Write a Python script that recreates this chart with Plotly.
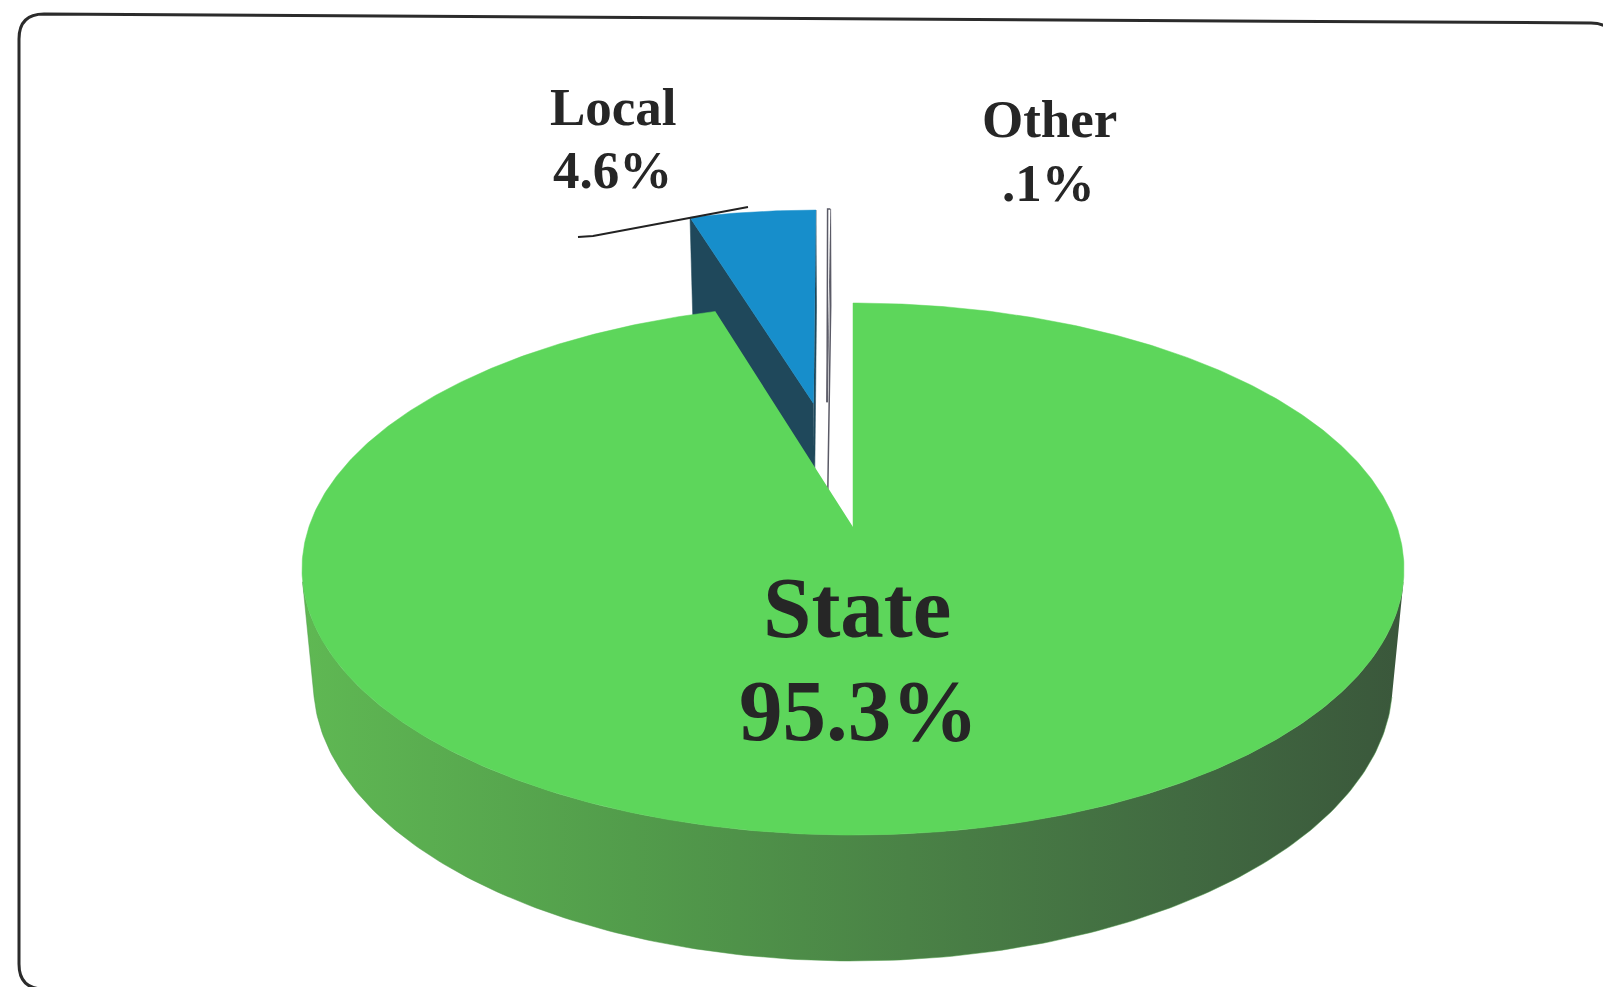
import numpy as np
import plotly.graph_objects as go

# ---------------- data ----------------
labels = ["State", "Local", "Other"]
values = [95.3, 4.6, 0.1]

# ---------------- style ----------------
top_colors = ["#5dd65b", "#178ecb", "#ffffff"]
wall_colors = ["#4f9a48", "#1f485b", "#ffffff"]
outline = [None, None, "#5a5a66"]
explode = [0.0, 0.52, 0.52]          # radial explode distance (radius units)
lateral = [0.0, 0.0, -0.05]          # small sideways nudge of exploded slice
side_scale = [[0.0, "#5fb853"], [0.3, "#529c4b"], [0.55, "#4a8246"],
              [0.8, "#416a41"], [1.0, "#3a573b"]]

W, H = 1611, 987
CX, CY = 845, 519
F, L = 3029.0, 5.567
PHI = np.radians(28.47)
DEPTH = 0.2405
SP, CP = np.sin(PHI), np.cos(PHI)


def proj(X, Y, Z):
    X, Y, Z = np.asarray(X, float), np.asarray(Y, float), np.asarray(Z, float)
    d = L + Z * CP - Y * SP
    return CX + F * X / d, CY - F * (Y * CP + Z * SP) / d


fig = go.Figure()


def poly(xs, ys, color, line_color=None, name="", gradient=None):
    kw = dict(x=list(xs), y=list(ys), mode="lines", fill="toself",
              fillcolor=color, hoverinfo="skip", showlegend=False, name=name)
    if line_color:
        kw["line"] = dict(color=line_color, width=1.5)
    else:
        kw["line"] = dict(color=color, width=0.5)
    if gradient:
        kw["fillgradient"] = dict(type="horizontal", colorscale=gradient)
    fig.add_trace(go.Scatter(**kw))


total = sum(values)
cum = np.concatenate([[0], np.cumsum(values)])
ranges = [(360 * cum[i] / total, 360 * cum[i + 1] / total) for i in range(len(values))]

# visible range of the curved side (perspective silhouette)
th_s = np.degrees(np.arccos(-1.0 / (L * CP)))
vis = (th_s, 360 - th_s)

# draw back (exploded) slices first, then the big front slice
order = [2, 1, 0]
for i in order:
    t0, t1 = ranges[i]
    mid = np.radians((t0 + t1) / 2)
    ox = explode[i] * np.sin(mid) + lateral[i]
    oz = explode[i] * np.cos(mid)
    th = np.radians(np.linspace(t0, t1, max(4, int((t1 - t0) * 2))))
    rx = ox + np.sin(th)
    rz = oz + np.cos(th)
    # radial walls
    for edge, sgn in ((t0, -1), (t1, 1)):
        e = np.radians(edge)
        nx, nz = sgn * np.cos(e), -sgn * np.sin(e)
        px, pz = ox + 0.5 * np.sin(e), oz + 0.5 * np.cos(e)
        if nx * (0 - px) + nz * (-L * CP - pz) <= 0:
            continue
        X = [ox, ox + np.sin(e), ox + np.sin(e), ox]
        Z = [oz, oz + np.cos(e), oz + np.cos(e), oz]
        Y = [0, 0, -DEPTH, -DEPTH]
        sx, sy = proj(X, Y, Z)
        poly(sx, sy, wall_colors[i], outline[i], labels[i])
    # curved front side
    a0, a1 = max(t0, vis[0]), min(t1, vis[1])
    if a1 > a0:
        ts = np.radians(np.linspace(a0, a1, 200))
        sx1, sy1 = proj(ox + np.sin(ts), np.zeros_like(ts), oz + np.cos(ts))
        sx2, sy2 = proj(ox + np.sin(ts[::-1]), -DEPTH * np.ones_like(ts), oz + np.cos(ts[::-1]))
        poly(np.concatenate([sx1, sx2]), np.concatenate([sy1, sy2]),
             wall_colors[i], None, labels[i], gradient=side_scale)
    # top face
    sx, sy = proj(np.concatenate([[ox], rx]), np.zeros(len(rx) + 1),
                  np.concatenate([[oz], rz]))
    poly(sx, sy, top_colors[i], outline[i], labels[i])


def fmt(v):
    return f"{v:.1f}".lstrip("0") + "%"


label_pos = {"State": ((849, 599), (850, 702), 87),
             "Local": ((605, 99), (604, 162), 53),
             "Other": ((1041, 111), (1040, 175), 53)}
annotations = []
for lab, v in zip(labels, values):
    (x1, y1), (x2, y2), fs = label_pos[lab]
    for txt, xx, yy in ((lab, x1, y1), (fmt(v), x2, y2)):
        annotations.append(dict(x=xx, y=yy, xref="x", yref="y", text=txt,
                                showarrow=False, xanchor="center", yanchor="middle",
                                font=dict(family="Liberation Serif", size=fs,
                                          color="#262626", weight="bold")))

shapes = [
    dict(type="path", xref="x", yref="y",
         path="M 36,6 L 1583,15 Q 1607,15 1607,39 L 1609,962 Q 1609,985 1586,985 "
              "L 36,981 Q 11,981 11,956 L 11,31 Q 11,6 36,6 Z",
         line=dict(color="#2b2b2b", width=3), fillcolor="rgba(0,0,0,0)", layer="below"),
    dict(type="path", xref="x", yref="y", path="M 570,229 L 585,228 L 740,199",
         line=dict(color="#222222", width=2)),
]

fig.update_layout(
    width=W, height=H, margin=dict(l=0, r=0, t=0, b=0),
    paper_bgcolor="white", plot_bgcolor="white",
    xaxis=dict(range=[0, W], visible=False, fixedrange=True),
    yaxis=dict(range=[H, 0], visible=False, fixedrange=True),
    annotations=annotations, shapes=shapes, showlegend=False,
)

fig.write_html("out.html")
